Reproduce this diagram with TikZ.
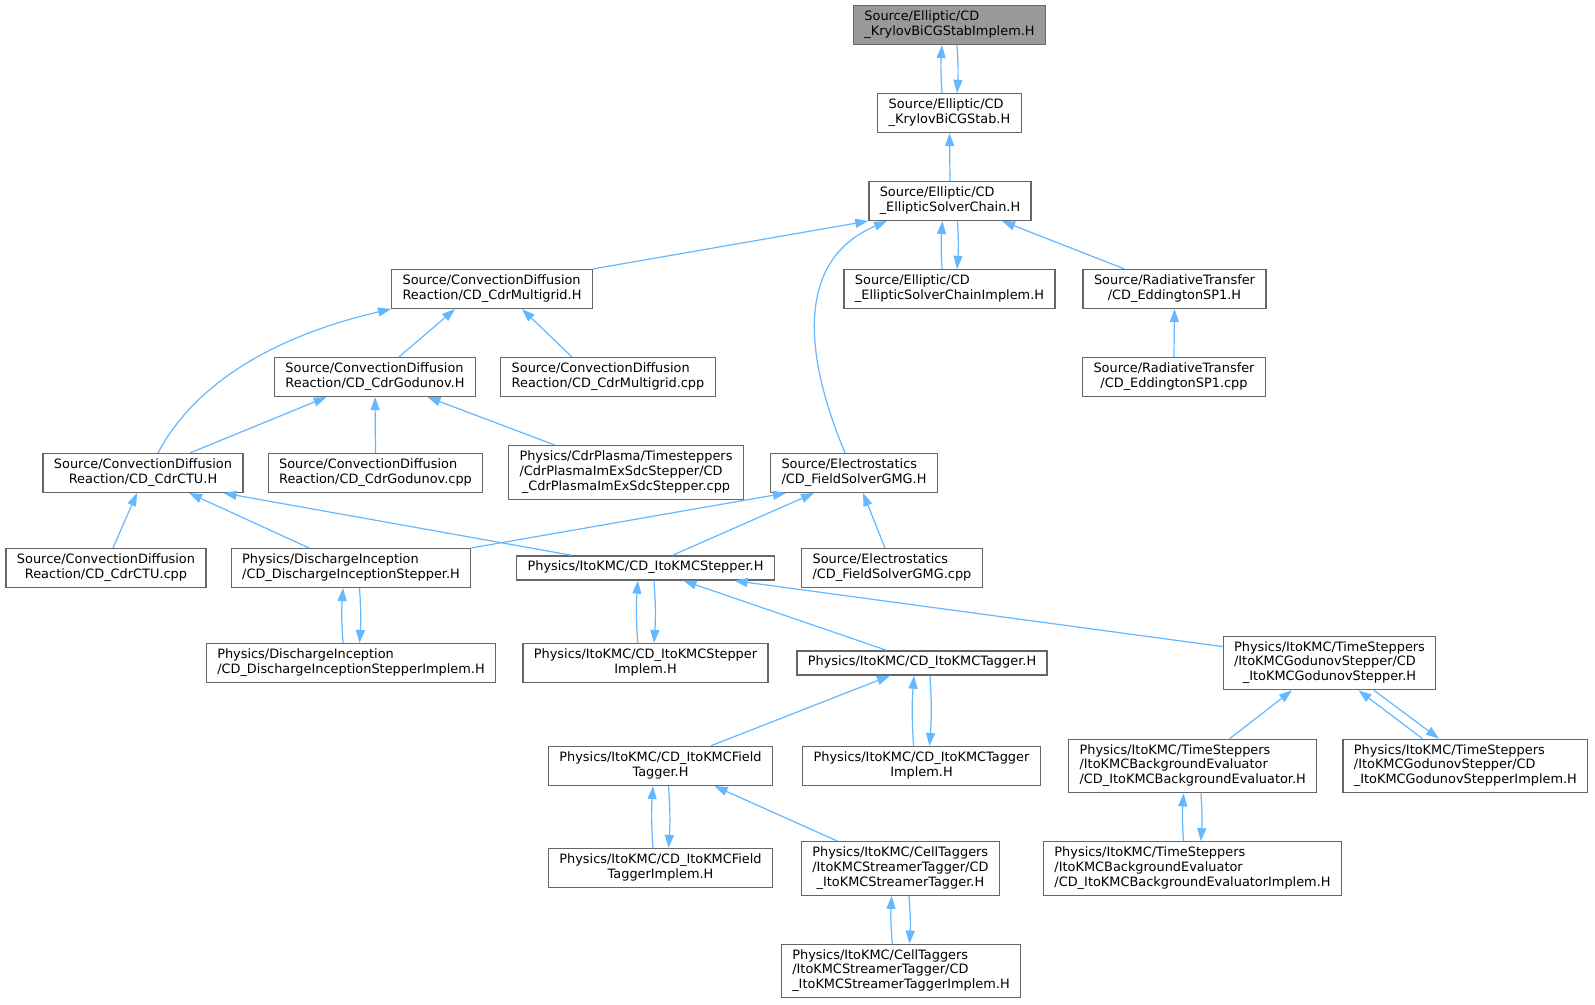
\documentclass[tikz,border=0pt]{standalone}
\usepackage{fontspec}
\setmainfont{DejaVu Sans}
\usetikzlibrary{arrows.meta}
\definecolor{edgeblue}{HTML}{63B8FF}
\definecolor{boxgrey}{HTML}{666666}
\definecolor{rootgrey}{HTML}{999999}
\newcommand{\oneln}[1]{\begin{tabular}{@{}c@{}}#1\end{tabular}}
\newcommand{\twoln}[2]{\begin{tabular}{@{}l@{}}#1\\\multicolumn{1}{@{}c@{}}{#2}\end{tabular}}
\newcommand{\threeln}[3]{\begin{tabular}{@{}l@{}}#1\\#2\\\multicolumn{1}{@{}c@{}}{#3}\end{tabular}}

\begin{document}
\begin{tikzpicture}[x=1pt,y=1pt,>={Triangle[length=13pt,width=9pt]},
    file/.style={draw=boxgrey,line width=1.3pt,fill=white,inner xsep=10.9pt,inner ysep=4.7pt,
        font=\fontsize{12.9}{14.7}\selectfont},
    root/.style={file,fill=rootgrey},
    inc/.style={draw=edgeblue,line width=1.2pt,->}]
                    \path[use as bounding box,fill=white] (0,0) rectangle (1595,1004);
                    \node[root] (krylovimpl) at (949.5,979) {\twoln{Source/Elliptic/CD}{\_KrylovBiCGStabImplem.H}};
                    \node[file] (krylov) at (949.5,891) {\twoln{Source/Elliptic/CD}{\_KrylovBiCGStab.H}};
                    \node[file] (chain) at (950,803) {\twoln{Source/Elliptic/CD}{\_EllipticSolverChain.H}};
                    \node[file] (multigrid) at (492,715) {\twoln{Source/ConvectionDiffusion}{Reaction/CD\_CdrMultigrid.H}};
                    \node[file] (chainimpl) at (949.5,715) {\twoln{Source/Elliptic/CD}{\_EllipticSolverChainImplem.H}};
                    \node[file] (edd) at (1174.5,715) {\twoln{Source/RadiativeTransfer}{/CD\_EddingtonSP1.H}};
                    \node[file] (godunov) at (375,627) {\twoln{Source/ConvectionDiffusion}{Reaction/CD\_CdrGodunov.H}};
                    \node[file] (multigridcpp) at (608,627) {\twoln{Source/ConvectionDiffusion}{Reaction/CD\_CdrMultigrid.cpp}};
                    \node[file] (eddcpp) at (1174,627) {\twoln{Source/RadiativeTransfer}{/CD\_EddingtonSP1.cpp}};
                    \node[file] (ctu) at (143,531) {\twoln{Source/ConvectionDiffusion}{Reaction/CD\_CdrCTU.H}};
                    \node[file] (godunovcpp) at (375.5,531) {\twoln{Source/ConvectionDiffusion}{Reaction/CD\_CdrGodunov.cpp}};
                    \node[file] (plasma) at (626,531.5) {\threeln{Physics/CdrPlasma/Timesteppers}{/CdrPlasmaImExSdcStepper/CD}{\_CdrPlasmaImExSdcStepper.cpp}};
                    \node[file] (fsg) at (854,531) {\twoln{Source/Electrostatics}{/CD\_FieldSolverGMG.H}};
                    \node[file] (ctucpp) at (106,436) {\twoln{Source/ConvectionDiffusion}{Reaction/CD\_CdrCTU.cpp}};
                    \node[file] (dis) at (351,436) {\twoln{Physics/DischargeInception}{/CD\_DischargeInceptionStepper.H}};
                    \node[file] (itostep) at (645.5,436) {\oneln{Physics/ItoKMC/CD\_ItoKMCStepper.H}};
                    \node[file] (fsgcpp) at (892,436) {\twoln{Source/Electrostatics}{/CD\_FieldSolverGMG.cpp}};
                    \node[file] (disimpl) at (351,341) {\twoln{Physics/DischargeInception}{/CD\_DischargeInceptionStepperImplem.H}};
                    \node[file] (itostepimpl) at (645.5,341) {\twoln{Physics/ItoKMC/CD\_ItoKMCStepper}{Implem.H}};
                    \node[file] (tagger) at (922,341) {\oneln{Physics/ItoKMC/CD\_ItoKMCTagger.H}};
                    \node[file] (godstep) at (1329.5,341) {\threeln{Physics/ItoKMC/TimeSteppers}{/ItoKMCGodunovStepper/CD}{\_ItoKMCGodunovStepper.H}};
                    \node[file] (ftagger) at (660.5,238) {\twoln{Physics/ItoKMC/CD\_ItoKMCField}{Tagger.H}};
                    \node[file] (taggerimpl) at (921.5,238) {\twoln{Physics/ItoKMC/CD\_ItoKMCTagger}{Implem.H}};
                    \node[file] (bgeval) at (1192.7,238) {\threeln{Physics/ItoKMC/TimeSteppers}{/ItoKMCBackgroundEvaluator}{/CD\_ItoKMCBackgroundEvaluator.H}};
                    \node[file] (godstepimpl) at (1465.4,238) {\threeln{Physics/ItoKMC/TimeSteppers}{/ItoKMCGodunovStepper/CD}{\_ItoKMCGodunovStepperImplem.H}};
                    \node[file] (ftaggerimpl) at (660.5,136) {\twoln{Physics/ItoKMC/CD\_ItoKMCField}{TaggerImplem.H}};
                    \node[file] (streamer) at (900.4,135.5) {\threeln{Physics/ItoKMC/CellTaggers}{/ItoKMCStreamerTagger/CD}{\_ItoKMCStreamerTagger.H}};
                    \node[file] (bgevalimpl) at (1192.5,135.5) {\threeln{Physics/ItoKMC/TimeSteppers}{/ItoKMCBackgroundEvaluator}{/CD\_ItoKMCBackgroundEvaluatorImplem.H}};
                    \node[file] (streamerimpl) at (901,33) {\threeln{Physics/ItoKMC/CellTaggers}{/ItoKMCStreamerTagger/CD}{\_ItoKMCStreamerTaggerImplem.H}};
                    \draw[inc] ([xshift=-7.5pt]krylov.north) to[bend left=4] ([xshift=-7.5pt]krylovimpl.south);
                    \draw[inc] ([xshift=7.5pt]krylovimpl.south) to[bend left=4] ([xshift=7.5pt]krylov.north);
                    \draw[inc] (chain.north) -- (krylov.south);
                    \draw[inc] (multigrid.north east) -- (chain.south west);
                    \draw[inc] ([xshift=-9pt]fsg.north) .. controls +(-45,108) and +(-87,-37) .. ([xshift=-63pt]chain.south);
                    \draw[inc] ([xshift=-7.5pt]chainimpl.north) to[bend left=4] ([xshift=-7.5pt]chain.south);
                    \draw[inc] ([xshift=7.5pt]chain.south) to[bend left=4] ([xshift=7.5pt]chainimpl.north);
                    \draw[inc] ([xshift=-50pt]edd.north) -- ([xshift=52pt]chain.south);
                    \draw[inc] (eddcpp.north) -- (edd.south);
                    \draw[inc] ([xshift=15pt]ctu.north) .. controls +(45,85) and +(-87,-20) .. (multigrid.south west);
                    \draw[inc] ([xshift=24pt]godunov.north) -- ([xshift=-37pt]multigrid.south);
                    \draw[inc] ([xshift=-36pt]multigridcpp.north) -- ([xshift=30pt]multigrid.south);
                    \draw[inc] ([xshift=47pt]ctu.north) -- ([xshift=-48.5pt]godunov.south);
                    \draw[inc] (godunovcpp.north) -- (godunov.south);
                    \draw[inc] ([xshift=-71pt]plasma.north) -- ([xshift=52.5pt]godunov.south);
                    \draw[inc] ([xshift=7pt]ctucpp.north) -- ([xshift=-6pt]ctu.south);
                    \draw[inc] ([xshift=-42pt]dis.north) -- ([xshift=46pt]ctu.south);
                    \draw[inc] ([xshift=-74pt]itostep.north) -- ([xshift=80.5pt]ctu.south);
                    \draw[inc] (dis.north east) -- ([xshift=-68pt]fsg.south);
                    \draw[inc] ([xshift=27pt]itostep.north) -- ([xshift=-40pt]fsg.south);
                    \draw[inc] ([xshift=-7pt]fsgcpp.north) -- ([xshift=9pt]fsg.south);
                    \draw[inc] ([xshift=-8pt]disimpl.north) to[bend left=4] ([xshift=-8pt]dis.south);
                    \draw[inc] ([xshift=8.5pt]dis.south) to[bend left=4] ([xshift=8.5pt]disimpl.north);
                    \draw[inc] ([xshift=-7.7pt]itostepimpl.north) to[bend left=4] ([xshift=-7.7pt]itostep.south);
                    \draw[inc] ([xshift=8.5pt]itostep.south) to[bend left=4] ([xshift=8.5pt]itostepimpl.north);
                    \draw[inc] ([xshift=-35.5pt]tagger.north) -- ([xshift=38pt]itostep.south);
                    \draw[inc] ([yshift=-11pt]godstep.north west) -- ([xshift=89pt]itostep.south);
                    \draw[inc] ([xshift=50pt]ftagger.north) -- ([xshift=-32pt]tagger.south);
                    \draw[inc] ([xshift=-8pt]taggerimpl.north) to[bend left=4] ([xshift=-8pt]tagger.south);
                    \draw[inc] ([xshift=8pt]tagger.south) to[bend left=4] ([xshift=8pt]taggerimpl.north);
                    \draw[inc] ([xshift=37pt]bgeval.north) -- ([xshift=-37.5pt]godstep.south);
                    \draw[inc] ([xshift=-43pt]godstepimpl.north) -- ([xshift=29pt]godstep.south);
                    \draw[inc] ([xshift=44.5pt]godstep.south) -- ([xshift=-26.5pt]godstepimpl.north);
                    \draw[inc] ([xshift=-7.5pt]ftaggerimpl.north) to[bend left=4] ([xshift=-7.5pt]ftagger.south);
                    \draw[inc] ([xshift=8pt]ftagger.south) to[bend left=4] ([xshift=8pt]ftaggerimpl.north);
                    \draw[inc] ([xshift=-63pt]streamer.north) -- ([xshift=54pt]ftagger.south);
                    \draw[inc] ([xshift=-9pt]bgevalimpl.north) to[bend left=4] ([xshift=-9pt]bgeval.south);
                    \draw[inc] ([xshift=8.3pt]bgeval.south) to[bend left=4] ([xshift=8.3pt]bgevalimpl.north);
                    \draw[inc] ([xshift=-8.7pt]streamerimpl.north) to[bend left=4] ([xshift=-8.7pt]streamer.south);
                    \draw[inc] ([xshift=8.5pt]streamer.south) to[bend left=4] ([xshift=8.5pt]streamerimpl.north);
\end{tikzpicture}
\end{document}
